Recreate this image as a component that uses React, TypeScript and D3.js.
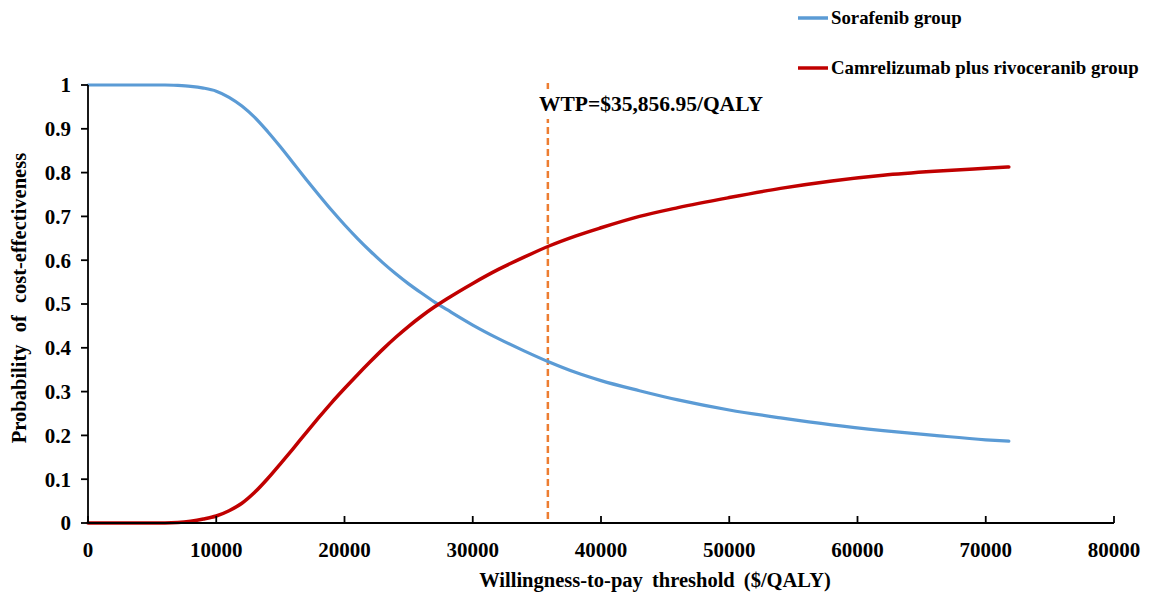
import React from "react";
import * as d3 from "d3";

const wtpValues = [0, 2000, 4000, 6000, 7000, 8000, 9000, 10000, 11000, 12000, 13000, 14000, 15000, 16000, 17000, 18000, 19000, 20000, 21000, 22000, 23000, 24000, 25000, 26000, 27000, 28000, 30000, 32000, 34000, 36000, 38000, 40000, 43000, 46000, 50000, 54000, 58000, 62000, 66000, 70000, 71800];
const sorafenib = [1, 1, 1, 1, 0.999, 0.997, 0.993, 0.986, 0.972, 0.952, 0.926, 0.894, 0.859, 0.822, 0.785, 0.749, 0.714, 0.681, 0.65, 0.621, 0.594, 0.569, 0.546, 0.525, 0.505, 0.487, 0.452, 0.421, 0.393, 0.367, 0.344, 0.325, 0.302, 0.281, 0.258, 0.24, 0.224, 0.211, 0.2, 0.19, 0.187];
const camrelizumab = [0, 0, 0, 0, 0.001, 0.004, 0.009, 0.016, 0.028, 0.045, 0.07, 0.101, 0.135, 0.17, 0.206, 0.241, 0.275, 0.307, 0.338, 0.368, 0.397, 0.424, 0.449, 0.472, 0.493, 0.512, 0.547, 0.579, 0.607, 0.633, 0.655, 0.674, 0.7, 0.72, 0.743, 0.764, 0.781, 0.794, 0.803, 0.81, 0.813];
const xTicks = [0, 10000, 20000, 30000, 40000, 50000, 60000, 70000, 80000];
const yTicks = [0, 0.1, 0.2, 0.3, 0.4, 0.5, 0.6, 0.7, 0.8, 0.9, 1];
const wtpThreshold = 35856.95;
const wtpLabel = "WTP=$35,856.95/QALY";
const seriesNames = ["Sorafenib group", "Camrelizumab plus rivoceranib group"];
const seriesColors = ["#5B9BD5", "#C00000"];

export default function App() {
  const W = 1158, H = 593;
  const left = 88, right = 1114, top = 85, bottom = 523;
  const x = d3.scaleLinear().domain([0, 80000]).range([left, right]);
  const y = d3.scaleLinear().domain([0, 1]).range([bottom, top]);
  const line = d3
    .line<[number, number]>()
    .x((d) => x(d[0]))
    .y((d) => y(d[1]))
    .curve(d3.curveMonotoneX);
  const series = [sorafenib, camrelizumab].map((vals) =>
    wtpValues.map((w, i) => [w, vals[i]] as [number, number])
  );
  const wx = x(wtpThreshold);
  return (
    <svg
      width={W}
      height={H}
      style={{
        position: "absolute",
        left: 0,
        top: 0,
        background: "#fff",
        fontFamily: "Liberation Serif, Times New Roman, serif",
        fontWeight: 700,
      }}
    >
      <line x1={wx} x2={wx} y1={83} y2={bottom} stroke="#ED7D31" strokeWidth={2.5} strokeDasharray="7,4" />
      <rect x={536} y={89} width={232} height={30} fill="#fff" />
      <text x={651} y={111} fontSize={21.5} textAnchor="middle" fill="#000">
        {wtpLabel}
      </text>

      {series.map((s, i) => (
        <path key={i} d={line(s) || ""} fill="none" stroke={seriesColors[i]} strokeWidth={i === 0 ? 3.2 : 3.5} strokeLinecap="round" />
      ))}

      <line x1={left} x2={left} y1={top} y2={bottom} stroke="#000" strokeWidth={1.8} />
      <line x1={left} x2={right} y1={bottom} y2={bottom} stroke="#000" strokeWidth={1.8} />
      {yTicks.map((t) => (
        <g key={"y" + t}>
          <line x1={left - 7} x2={left} y1={y(t)} y2={y(t)} stroke="#000" strokeWidth={1.8} />
          <text x={71} y={y(t)} dy="0.35em" fontSize={21} textAnchor="end">
            {d3.format("")(t)}
          </text>
        </g>
      ))}
      {xTicks.map((t) => (
        <g key={"x" + t}>
          <line x1={x(t)} x2={x(t)} y1={bottom - 7} y2={bottom} stroke="#000" strokeWidth={1.8} />
          <text x={x(t)} y={557} fontSize={21} textAnchor="middle">
            {t}
          </text>
        </g>
      ))}

      <text x={655} y={587} fontSize={20.5} textAnchor="middle" wordSpacing={4}>
        Willingness-to-pay threshold ($/QALY)
      </text>
      <text transform={`translate(26,${298}) rotate(-90)`} fontSize={20.5} textAnchor="middle" wordSpacing={7}>
        Probability of cost-effectiveness
      </text>

      {seriesNames.map((n, i) => (
        <g key={n}>
          <line x1={798} x2={828} y1={18 + i * 50} y2={18 + i * 50} stroke={seriesColors[i]} strokeWidth={3.5} />
          <text x={831} y={24 + i * 50} fontSize={18.8}>
            {n}
          </text>
        </g>
      ))}
    </svg>
  );
}
